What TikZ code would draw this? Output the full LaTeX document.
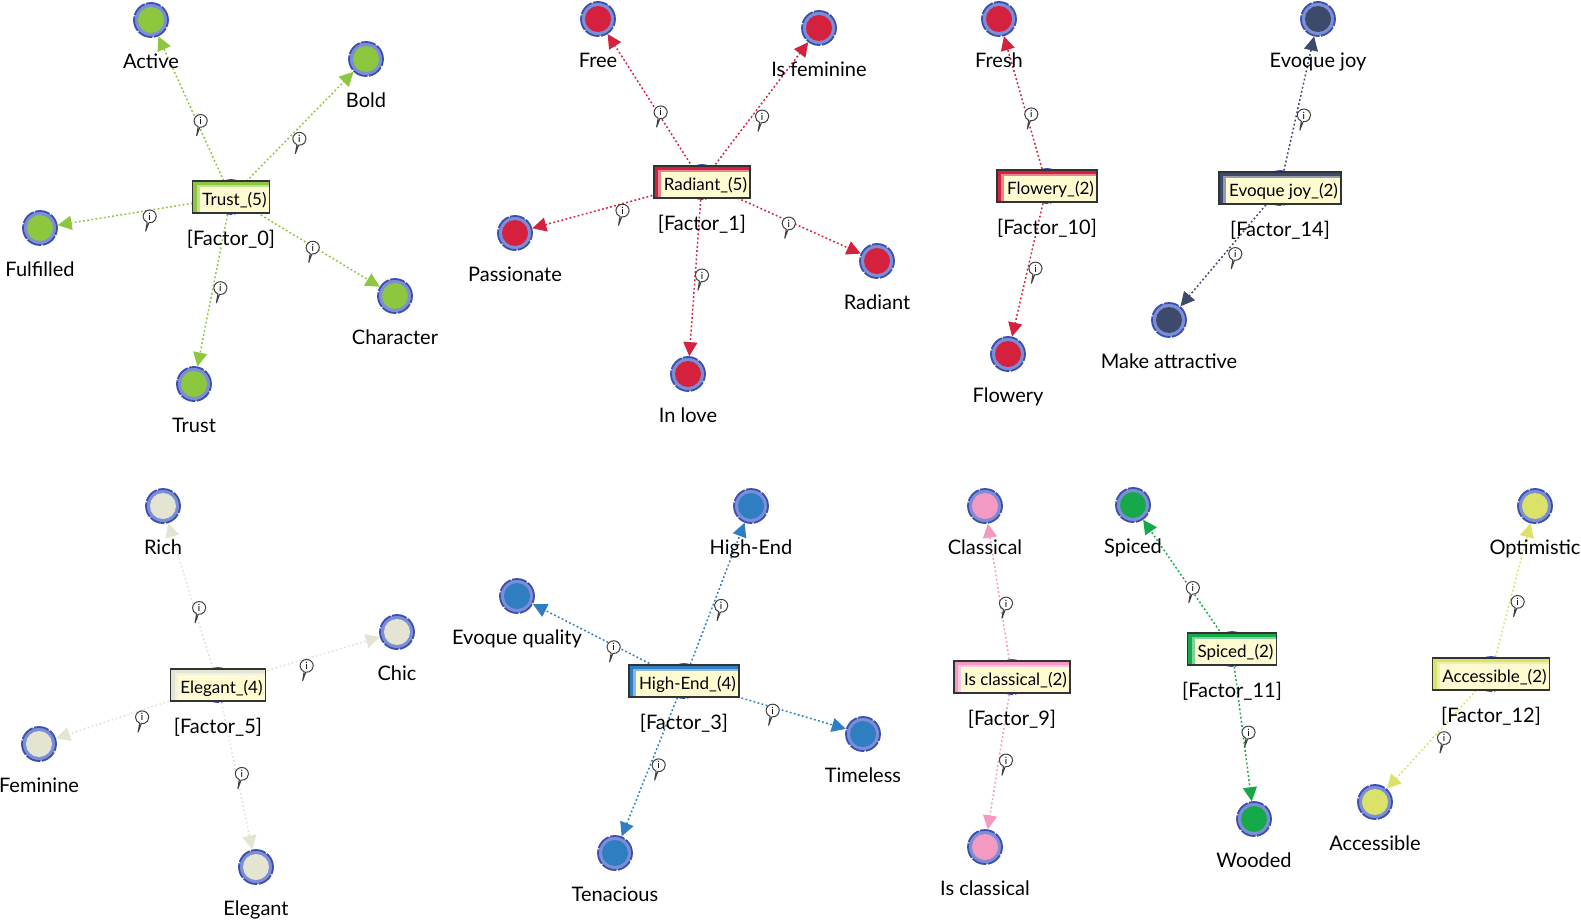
\documentclass[tikz,border=0pt]{standalone}
\usepackage{fontspec}
\setmainfont{Lato}
\usetikzlibrary{arrows.meta,backgrounds,shapes.callouts}
\definecolor{ring}{HTML}{7B8ED6}
\definecolor{ringedge}{HTML}{3D4FAE}
\definecolor{cream}{HTML}{FFFBD0}
\definecolor{lime}{HTML}{8DC63F}
\definecolor{crimson}{HTML}{D3213E}
\definecolor{navy}{HTML}{3D4A6C}
\definecolor{sand}{HTML}{E4E4D2}
\definecolor{azure}{HTML}{2F7EC2}
\definecolor{rose}{HTML}{F49AC2}
\definecolor{spice}{HTML}{16A94A}
\definecolor{citron}{HTML}{DAE26A}

\begin{document}
\begin{tikzpicture}[x=0.5pt,y=-0.5pt,label distance=15.5pt,
  leaf/.style={circle,minimum size=17pt,inner sep=0pt,fill=ring,draw=ringedge,line width=0.9pt,
    dash pattern=on 7.5pt off 0.8pt,
    path picture={\fill[#1] (path picture bounding box.center) circle (6.5pt);}},
  lbl/.style={anchor=base,font=\fontsize{10}{12}\selectfont},
  fbox/.style={rectangle,draw=black!80,line width=0.7pt,fill=cream,minimum height=15.5pt,inner xsep=1.5pt,
    text height=9pt,text depth=0.5pt,
    font=\fontsize{8.5}{10}\selectfont,execute at begin node=\hspace*{3.5pt},
    path picture={
      \fill[#1!55] (path picture bounding box.north west) rectangle ([yshift=-3pt]path picture bounding box.north east);
      \fill[#1!55] (path picture bounding box.north west) rectangle ([xshift=3.6pt]path picture bounding box.south west);
      \fill[#1] (path picture bounding box.north west) rectangle ([yshift=-2pt]path picture bounding box.north east);
      \fill[#1] (path picture bounding box.north west) rectangle ([xshift=2.2pt]path picture bounding box.south west);}},
  conn/.style={draw=#1,line width=0.75pt,dash pattern=on 0.9pt off 1.2pt,-{Triangle[length=7pt,width=7pt]}},
  info/.style={ellipse callout,draw=black!75,fill=white,solid,line width=0.5pt,text=black,
    minimum width=6.6pt,minimum height=6.4pt,inner sep=0pt,callout relative pointer={(-1.2pt,-4.4pt)},
    font=\fontsize{5}{5}\selectfont,pos=0.45,xshift=3.2pt,yshift=-2.6pt}]
\useasboundingbox (0,0) rectangle (1581,921);

% Trust_(5)
\node[leaf=lime,label={[lbl]below:{[Factor\_0]}}] (f0) at (231,197) {};
\node[fbox=lime] (f0b) at (f0) {Trust\_(5)};
\node[leaf=lime,label={[lbl]below:Active}] (active) at (151,20) {};
\node[leaf=lime,label={[lbl]below:Bold}] (bold) at (366,59) {};
\node[leaf=lime,label={[lbl]below:Fulfilled}] (fulfilled) at (40,228) {};
\node[leaf=lime,label={[lbl]below:Character}] (character) at (395,296) {};
\node[leaf=lime,label={[lbl]below:Trust}] (trust) at (194,384) {};

% Radiant_(5)
\node[leaf=crimson,label={[lbl]below:{[Factor\_1]}}] (f1) at (702,182) {};
\node[fbox=crimson] (f1b) at (f1) {Radiant\_(5)};
\node[leaf=crimson,label={[lbl]below:Free}] (free) at (598,19) {};
\node[leaf=crimson,label={[lbl]below:Is feminine}] (isfem) at (819,28) {};
\node[leaf=crimson,label={[lbl]below:Passionate}] (passionate) at (515,233) {};
\node[leaf=crimson,label={[lbl]below:Radiant}] (radiant) at (877,261) {};
\node[leaf=crimson,label={[lbl]below:In love}] (inlove) at (688,374) {};

% Flowery_(2)
\node[leaf=crimson,label={[lbl]below:{[Factor\_10]}}] (f10) at (1047,186) {};
\node[fbox=crimson] (f10b) at (f10) {Flowery\_(2)};
\node[leaf=crimson,label={[lbl]below:Fresh}] (fresh) at (999,19) {};
\node[leaf=crimson,label={[lbl]below:Flowery}] (flowery) at (1008,354) {};

% Evoque joy_(2)
\node[leaf=navy,label={[lbl]below:{[Factor\_14]}}] (f14) at (1280,188) {};
\node[fbox=navy] (f14b) at (f14) {Evoque joy\_(2)};
\node[leaf=navy,label={[lbl]below:Evoque joy}] (evjoy) at (1318,19) {};
\node[leaf=navy,label={[lbl]below:Make attractive}] (makeattr) at (1169,320) {};

% Elegant_(4)
\node[leaf=sand,label={[lbl]below:{[Factor\_5]}}] (f5) at (218,685) {};
\node[fbox=sand] (f5b) at (f5) {Elegant\_(4)};
\node[leaf=sand,label={[lbl]below:Rich}] (rich) at (163,506) {};
\node[leaf=sand,label={[lbl]below:Chic}] (chic) at (397,632) {};
\node[leaf=sand,label={[lbl]below:Feminine}] (feminine) at (39,744) {};
\node[leaf=sand,label={[lbl]below:Elegant}] (elegant) at (256,867) {};

% High-End_(4)
\node[leaf=azure,label={[lbl]below:{[Factor\_3]}}] (f3) at (684,681) {};
\node[fbox=azure] (f3b) at (f3) {High-End\_(4)};
\node[leaf=azure,label={[lbl]below:High-End}] (highend) at (751,506) {};
\node[leaf=azure,label={[lbl]below:Evoque quality}] (evqual) at (517,596) {};
\node[leaf=azure,label={[lbl]below:Timeless}] (timeless) at (863,734) {};
\node[leaf=azure,label={[lbl]below:Tenacious}] (tenacious) at (615,853) {};

% Is classical_(2)
\node[leaf=rose,label={[lbl]below:{[Factor\_9]}}] (f9) at (1012,677) {};
\node[fbox=rose] (f9b) at (f9) {Is classical\_(2)};
\node[leaf=rose,label={[lbl]below:Classical}] (classical) at (985,506) {};
\node[leaf=rose,label={[lbl]below:Is classical}] (isclass) at (985,847) {};

% Spiced_(2)
\node[leaf=spice,label={[lbl]below:{[Factor\_11]}}] (f11) at (1232,649) {};
\node[fbox=spice] (f11b) at (f11) {Spiced\_(2)};
\node[leaf=spice,label={[lbl]below:Spiced}] (spiced) at (1133,505) {};
\node[leaf=spice,label={[lbl]below:Wooded}] (wooded) at (1254,819) {};

% Accessible_(2)
\node[leaf=citron,label={[lbl]below:{[Factor\_12]}}] (f12) at (1491,674) {};
\node[fbox=citron] (f12b) at (f12) {Accessible\_(2)};
\node[leaf=citron,label={[lbl]below:Optimistic}] (optimistic) at (1535,506) {};
\node[leaf=citron,label={[lbl]below:Accessible}] (accessible) at (1375,802) {};

\begin{scope}[on background layer]
\fill[white] (0,0) rectangle (1581,921);
\foreach \to in {active,bold,fulfilled,character,trust}
  \draw[conn=lime] (f0) -- node[info]{i} (\to);
\foreach \to in {free,isfem,passionate,radiant,inlove}
  \draw[conn=crimson] (f1) -- node[info]{i} (\to);
\foreach \to in {fresh,flowery}
  \draw[conn=crimson] (f10) -- node[info]{i} (\to);
\foreach \to in {evjoy,makeattr}
  \draw[conn=navy] (f14) -- node[info]{i} (\to);
\foreach \to in {rich,chic,feminine,elegant}
  \draw[conn=sand] (f5) -- node[info]{i} (\to);
\foreach \to in {highend,evqual,timeless,tenacious}
  \draw[conn=azure] (f3) -- node[info]{i} (\to);
\foreach \to in {classical,isclass}
  \draw[conn=rose] (f9) -- node[info]{i} (\to);
\foreach \to in {spiced,wooded}
  \draw[conn=spice] (f11) -- node[info]{i} (\to);
\foreach \to in {optimistic,accessible}
  \draw[conn=citron] (f12) -- node[info]{i} (\to);
\end{scope}
\end{tikzpicture}
\end{document}
